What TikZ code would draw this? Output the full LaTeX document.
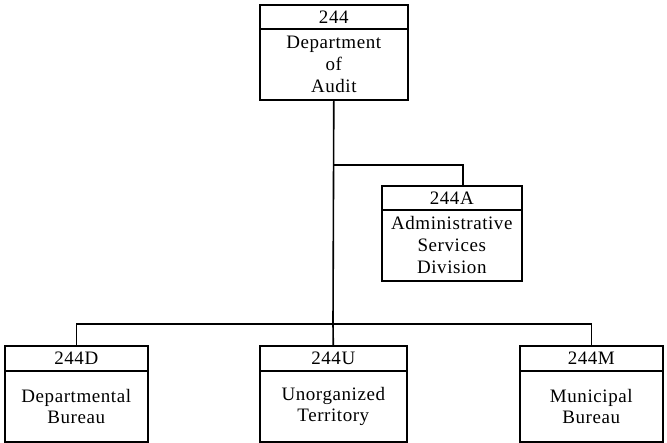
\documentclass[tikz,border=0pt]{standalone}
\usepackage{fontspec}
\setmainfont{Liberation Serif}[LetterSpace=3]
\begin{document}
\begin{tikzpicture}[x=1pt,y=-1pt,
  line width=1.6pt,
  hdr/.style={draw, rectangle, inner sep=0pt, minimum height=24pt, anchor=north west,
    font=\fontsize{19}{22}\selectfont},
  bdy/.style={draw, rectangle, inner sep=0pt, minimum height=71pt, anchor=north west,
    align=center, font=\fontsize{19}{21}\selectfont},
  conn/.style={line width=1.6pt}]
\useasboundingbox (0,0) rectangle (667,443);
% top box
\node[hdr, minimum width=148pt] (h244) at (259,4) {244};
\node[bdy, minimum width=148pt, font=\fontsize{19}{22}\selectfont] (b244) at (259,28) {Department\\of\\Audit};
% 244A
\node[hdr, minimum width=140pt] (h244A) at (381,185) {244A};
\node[bdy, minimum width=140pt, font=\fontsize{19}{22}\selectfont] (b244A) at (381,209) {Administrative\\Services\\Division};
% bottom
\node[hdr, minimum width=143pt, minimum height=25pt] (h244D) at (4,345) {244D};
\node[bdy, minimum width=143pt] (b244D) at (4,370) {Departmental\\Bureau};
\node[hdr, minimum width=147pt, minimum height=25pt] (h244U) at (259,345) {244U};
\node[bdy, minimum width=147pt] (b244U) at (259,370) {Unorganized\\Territory};
\node[hdr, minimum width=143pt, minimum height=25pt] (h244M) at (519,345) {244M};
\node[bdy, minimum width=143pt] (b244M) at (519,370) {Municipal\\Bureau};
% connectors
\coordinate (jA) at (333,165);
\coordinate (jB) at (333,324);
\coordinate (aTop) at (463,185);
\draw[conn] (b244.south) -- (jB) -- (h244U.north);
\draw[conn] (jA) -| (aTop);
\draw[conn] (h244D.north) |- (jB) -| (h244M.north);
\end{tikzpicture}
\end{document}
